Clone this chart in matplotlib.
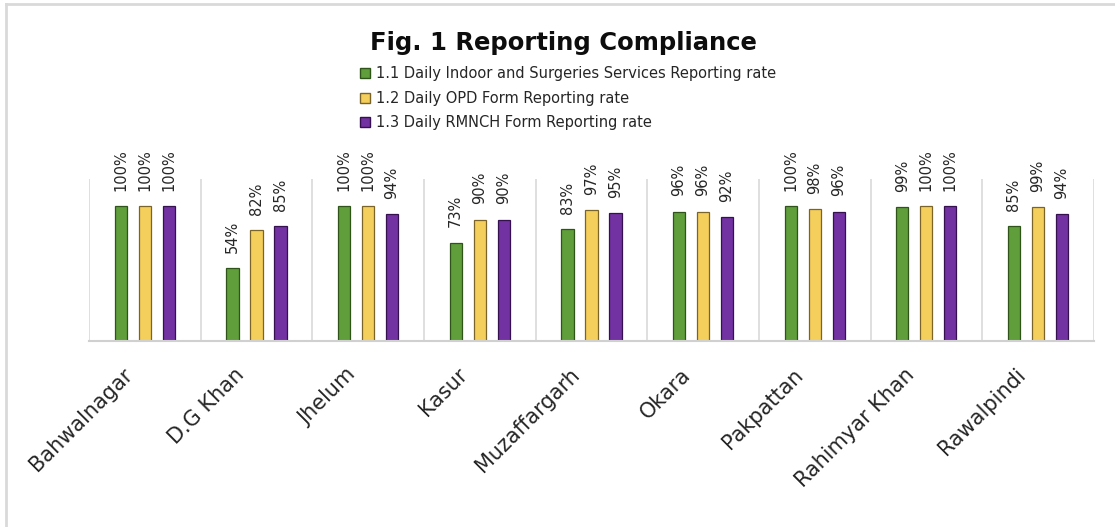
import matplotlib
matplotlib.use("Agg")
import matplotlib.pyplot as plt
import numpy as np
from matplotlib.lines import Line2D

districts = ["Bahwalnagar", "D.G Khan", "Jhelum", "Kasur", "Muzaffargarh",
             "Okara", "Pakpattan", "Rahimyar Khan", "Rawalpindi"]
indoor = [100, 54, 100, 73, 83, 96, 100, 99, 85]
opd = [100, 82, 100, 90, 97, 96, 98, 100, 99]
rmnch = [100, 85, 94, 90, 95, 92, 96, 100, 94]
series_names = ["1.1 Daily Indoor and Surgeries Services Reporting rate",
                "1.2 Daily OPD Form Reporting rate",
                "1.3 Daily RMNCH Form Reporting rate"]

faces = ["#5f9e3a", "#f5cf5c", "#7232a2"]
edges = ["#2e5419", "#7a6428", "#35124f"]

fig = plt.figure(figsize=(11.15, 5.27), dpi=100)
ax = fig.add_axes([0.0798, 0.353, 0.9012, 0.307])

x = np.arange(len(districts))
width = 0.11
offsets = [-0.215, 0.0, 0.215]
for vals, off, fc, ec in zip([indoor, opd, rmnch], offsets, faces, edges):
    bars = ax.bar(x + off, vals, width=width, color=fc, edgecolor=ec, linewidth=0.9)
    for b, v in zip(bars, vals):
        ax.annotate(f"{v}%", (b.get_x() + b.get_width() / 2, b.get_height()),
                    xytext=(0, 11), textcoords="offset points", rotation=90,
                    ha="center", va="bottom", fontsize=10.5, color="#262626")

ax.set_xlim(-0.5, len(districts) - 0.5)
ax.set_ylim(0, 120)
ax.set_yticks([])
for s in ["top", "right", "left"]:
    ax.spines[s].set_visible(False)
ax.spines["bottom"].set_color("#d0d0d0")
ax.spines["bottom"].set_linewidth(1.5)
for sep in np.arange(-0.5, len(districts), 1.0):
    ax.axvline(sep, color="#d9d9d9", linewidth=1.2, zorder=0)

ax.set_xticks(x - 0.2)
ax.set_xticklabels(districts, rotation=45, ha="right", rotation_mode="anchor",
                   fontsize=15, color="#262626")
ax.tick_params(axis="x", length=0, pad=17)

fig.text(0.505, 0.918, "Fig. 1 Reporting Compliance", ha="center", va="center",
         fontsize=17.5, fontweight="bold", color="#0d0d0d")

handles = [Line2D([0], [0], marker="s", linestyle="none", markersize=7,
                  markerfacecolor=fc, markeredgecolor=ec) for fc, ec in zip(faces, edges)]
fig.legend(handles, series_names, loc="upper left", bbox_to_anchor=(0.316, 0.888),
           frameon=False, fontsize=10.5, handlelength=0.8, handletextpad=0.3,
           labelspacing=0.65, borderpad=0, labelcolor="#262626")

# outer chart border (left and top edges visible)
fig.add_artist(Line2D([0.0054, 0.0054], [0.0, 0.992], transform=fig.transFigure,
                      color="#d9d9d9", linewidth=2))
fig.add_artist(Line2D([0.0054, 1.0], [0.992, 0.992], transform=fig.transFigure,
                      color="#d9d9d9", linewidth=2))

fig.savefig("out.png", dpi=100)
